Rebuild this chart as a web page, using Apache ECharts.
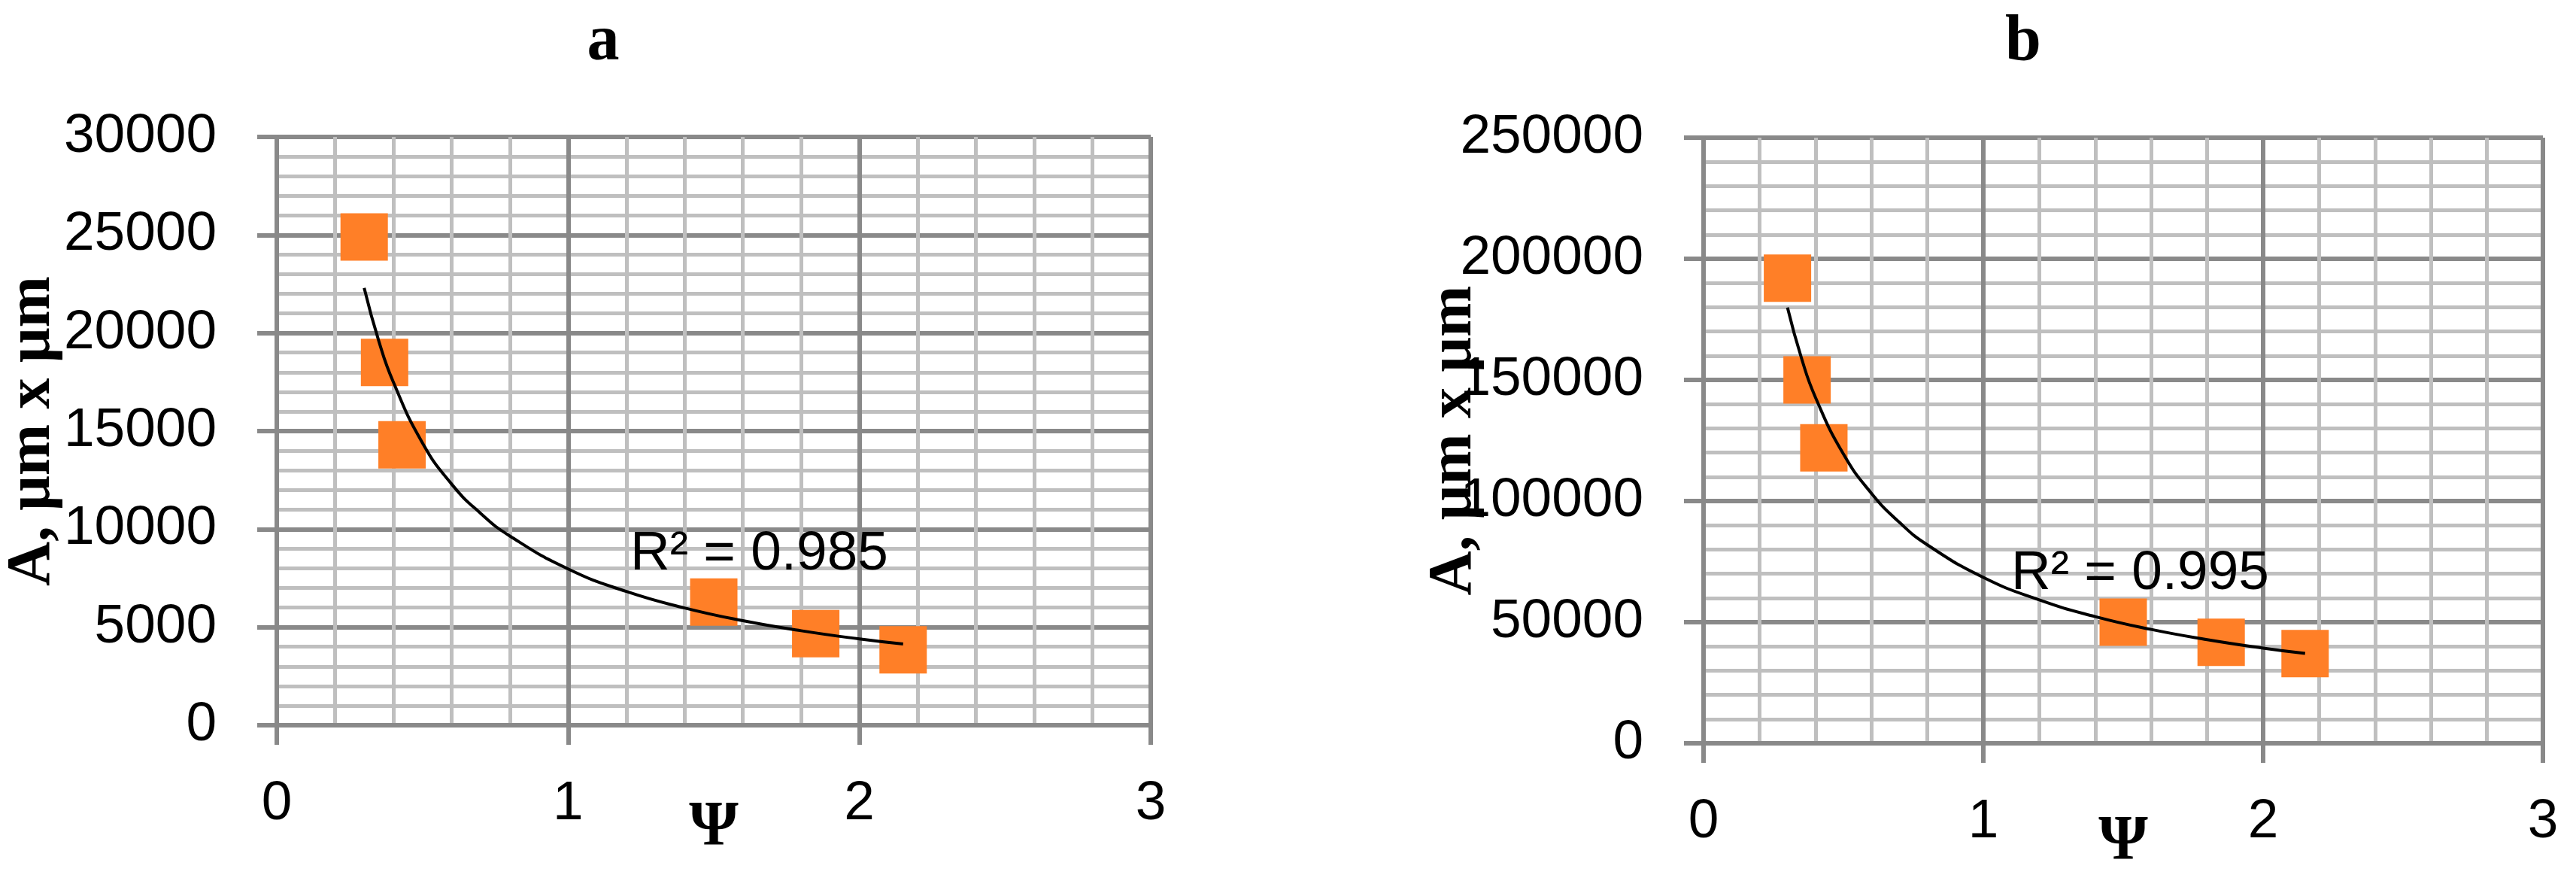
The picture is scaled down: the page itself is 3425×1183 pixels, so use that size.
<!DOCTYPE html>
<html>
<head>
<meta charset="utf-8">
<script src="https://cdn.jsdelivr.net/npm/echarts@6/dist/echarts.min.js"></script>
<style>
html, body { margin: 0; padding: 0; background: #fff; }
#chart { width: 3425px; height: 1183px; }
</style>
</head>
<body>
<div id="chart"></div>
<script>
// measured points (same psi values on both panels)
const psi = [0.3, 0.37, 0.43, 1.5, 1.85, 2.15]
const areaA = [24900, 18500, 14300, 6280, 4670, 3850]
const areaB = [192000, 150000, 122000, 50000, 41700, 37000]

// trend curves
const trendPsi = [0.3, 0.35, 0.4, 0.5, 0.6, 0.7, 0.8, 1.0, 1.2, 1.4, 1.6, 1.8, 2.0, 2.15]
const trendA = [22300, 19600, 17500, 14400, 12300, 10800, 9650, 7970, 6820, 5980, 5330, 4820, 4400, 4140]
const trendB = [179900, 159000, 142800, 119400, 103200, 91200, 81900, 68500, 59200, 52300, 47000, 42800, 39300, 37100]

const panelTitles = ['a', 'b']
const r2Labels = ['R\u00b2 = 0.985', 'R\u00b2 = 0.995']
const yName = 'A, \u03bcm x \u03bcm'
const xName = '\u03a8'

const sans = '"Liberation Sans", Arial, sans-serif'
const serif = '"Liberation Serif", "Times New Roman", serif'
const major = '#898989'
const minor = '#BFBFBF'
const orange = '#FF7F27'

function pairs (xs, ys) {
  return xs.map((x, i) => [x, ys[i]])
}

function plain (v) {
  return String(v)
}

function makeX (gridIndex, nameGap) {
  return {
    type: 'value',
    gridIndex: gridIndex,
    min: 0,
    max: 3,
    interval: 1,
    name: xName,
    nameLocation: 'middle',
    nameGap: nameGap,
    nameMoveOverlap: false,
    nameTextStyle: {fontFamily: serif, fontWeight: 'bold', fontSize: 84, color: '#000'},
    axisLine: {show: true, lineStyle: {color: major, width: 6}},
    axisTick: {show: true, length: 26, lineStyle: {color: major, width: 6}},
    axisLabel: {fontFamily: sans, fontSize: 73, color: '#000', margin: 68, formatter: plain},
    splitLine: {show: true, lineStyle: {color: major, width: 6}},
    minorTick: {show: false, splitNumber: 5},
    minorSplitLine: {show: true, lineStyle: {color: minor, width: 5}}
  }
}

function makeY (gridIndex, max, step, nameGap) {
  return {
    type: 'value',
    gridIndex: gridIndex,
    min: 0,
    max: max,
    interval: step,
    name: yName,
    nameLocation: 'middle',
    nameGap: nameGap,
    nameMoveOverlap: false,
    nameTextStyle: {fontFamily: serif, fontWeight: 'bold', fontSize: 82, color: '#000'},
    axisLine: {show: true, lineStyle: {color: major, width: 6}},
    axisTick: {show: true, length: 26, lineStyle: {color: major, width: 6}},
    axisLabel: {fontFamily: sans, fontSize: 73, color: '#000', margin: 80, formatter: plain},
    splitLine: {show: true, lineStyle: {color: major, width: 6}},
    minorTick: {show: false, splitNumber: 5},
    minorSplitLine: {show: true, lineStyle: {color: minor, width: 5}}
  }
}

function pointSeries (idx, values) {
  return {
    type: 'scatter',
    xAxisIndex: idx,
    yAxisIndex: idx,
    symbol: 'rect',
    symbolSize: 63,
    itemStyle: {color: orange, opacity: 1},
    z: 3,
    data: pairs(psi, values)
  }
}

function trendSeries (idx, values) {
  return {
    type: 'line',
    xAxisIndex: idx,
    yAxisIndex: idx,
    smooth: true,
    showSymbol: false,
    lineStyle: {color: '#000', width: 4},
    z: 4,
    data: pairs(trendPsi, values)
  }
}

let chart = echarts.init(document.getElementById('chart'))
chart.setOption({
  animation: false,
  backgroundColor: '#fff',
  title: [
    {text: panelTitles[0], left: 797, top: 9, textAlign: 'center',
      textStyle: {fontFamily: serif, fontWeight: 'bold', fontSize: 86, color: '#000'}},
    {text: panelTitles[1], left: 2685, top: 9, textAlign: 'center',
      textStyle: {fontFamily: serif, fontWeight: 'bold', fontSize: 86, color: '#000'}}
  ],
  grid: [
    {left: 368, top: 182, width: 1162, height: 782, outerBoundsMode: 'none', containLabel: false},
    {left: 2265, top: 183, width: 1116, height: 805, outerBoundsMode: 'none', containLabel: false}
  ],
  xAxis: [makeX(0, 95), makeX(1, 90)],
  yAxis: [makeY(0, 30000, 5000, 283), makeY(1, 250000, 50000, 290)],
  series: [
    pointSeries(0, areaA),
    trendSeries(0, trendA),
    pointSeries(1, areaB),
    trendSeries(1, trendB)
  ],
  graphic: [
    {type: 'text', left: 838, top: 700, z: 10,
      style: {text: r2Labels[0], font: '73px ' + sans, fill: '#000'}},
    {type: 'text', left: 2674, top: 726, z: 10,
      style: {text: r2Labels[1], font: '73px ' + sans, fill: '#000'}}
  ]
})
</script>
</body>
</html>
